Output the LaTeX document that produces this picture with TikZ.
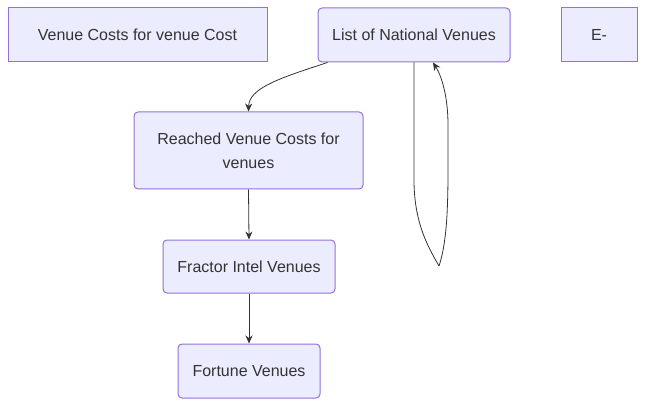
\documentclass[tikz,border=0pt]{standalone}
\usepackage{fontspec}
\setmainfont{Liberation Sans}
\usetikzlibrary{arrows.meta}
\definecolor{boxfill}{HTML}{ECECFF}
\definecolor{boxline}{HTML}{9370DB}
\definecolor{ink}{HTML}{333333}
\begin{document}
\begin{tikzpicture}[x=1pt,y=-1pt,
  box/.style={draw=boxline,fill=boxfill,line width=1pt,text=ink,inner sep=0pt,align=center,font=\fontsize{16}{24}\selectfont},
  sqbox/.style={box},
  rbox/.style={box,rounded corners=4pt},
  conn/.style={draw=ink,line width=0.8pt,-{Stealth[length=8pt,width=7pt]}},
  plain/.style={draw=ink,line width=0.8pt}]
\useasboundingbox (0,0) rectangle (645,406);
\node[sqbox,minimum width=259pt,minimum height=54pt] (A) at (137.5,35) {Venue Costs for venue Cost};
\node[rbox,minimum width=192pt,minimum height=54pt] (B) at (414,35) {List of National Venues};
\node[sqbox,minimum width=76pt,minimum height=54pt] (C) at (599,35) {E-};
\node[rbox,minimum width=229pt,minimum height=77pt] (D) at (248.5,150.5) {Reached Venue Costs for\\venues};
\node[rbox,minimum width=172pt,minimum height=53pt] (E) at (249,266.5) {Fractor Intel Venues};
\node[rbox,minimum width=142pt,minimum height=54pt] (F) at (249,371) {Fortune Venues};
\coordinate (L) at (439,266);
\draw[conn] ([xshift=10pt]B.south west) .. controls (280,78) and (249,88) .. (D.north);
\draw[conn] (D.south) -- (E.north);
\draw[conn] (E.south) -- (F.north);
\draw[plain] (B.south) -- (414,180) .. controls (414,225) and (430,250) .. (L);
\draw[conn] (L) .. controls (446,245) and (448,215) .. (448,170) -- (448,125) .. controls (448,95) and (441,75) .. ([xshift=19pt]B.south);
\end{tikzpicture}
\end{document}
